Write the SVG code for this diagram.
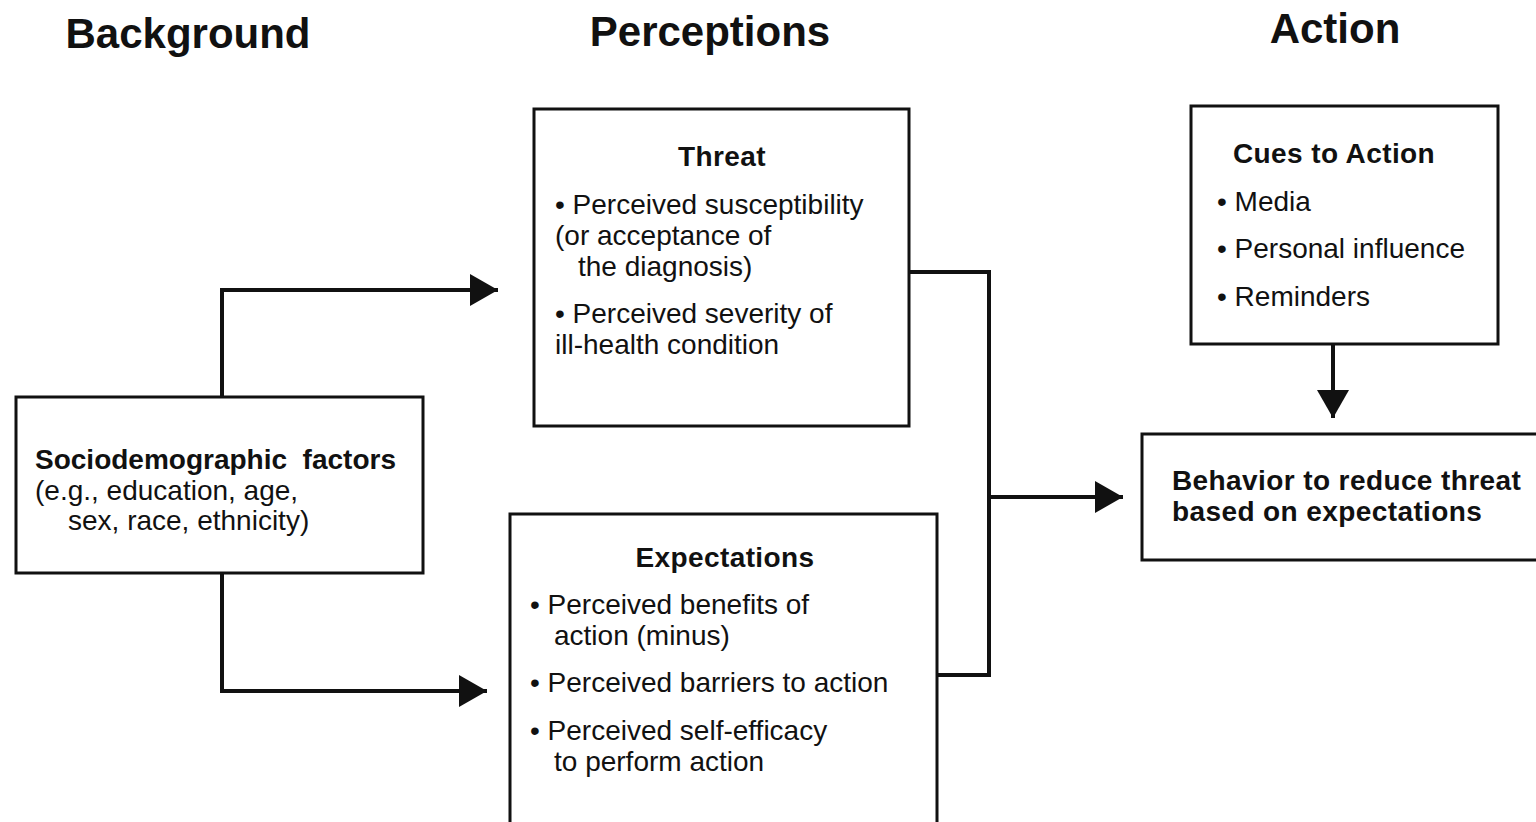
<svg xmlns="http://www.w3.org/2000/svg" width="1536" height="822" viewBox="0 0 1536 822">
<style>
.box{fill:#fff;stroke:#111;stroke-width:3}
.ln{fill:none;stroke:#111;stroke-width:4}
.t{font-family:"Liberation Sans",Arial,sans-serif;font-size:28px;fill:#111}
.b{font-weight:bold;letter-spacing:0.4px}
.h{font-family:"Liberation Sans",Arial,sans-serif;font-size:42px;font-weight:bold;fill:#111}
</style>
<defs>
<marker id="ah" markerWidth="8" markerHeight="8" refX="7" refY="4" orient="auto" markerUnits="strokeWidth">
<path d="M0,0 L7,4 L0,8 Z" fill="#111"/>
</marker>
</defs>
<rect width="1536" height="822" fill="#fff"/>
<g id="titles">
<text class="h" x="188" y="48" text-anchor="middle">Background</text>
<text class="h" x="710" y="46" text-anchor="middle">Perceptions</text>
<text class="h" x="1335" y="43" text-anchor="middle">Action</text>
</g>
<g id="connectors">
<path class="ln" d="M222,397 V290 H498" marker-end="url(#ah)"/>
<path class="ln" d="M222,573 V691 H487" marker-end="url(#ah)"/>
<path class="ln" d="M909,272 H989 V675 H937"/>
<path class="ln" d="M989,497 H1123" marker-end="url(#ah)"/>
<path class="ln" d="M1333,344 V418" marker-end="url(#ah)"/>
</g>
<g id="socio">
<rect class="box" x="16" y="397" width="407" height="176"/>
<text class="t b" x="35" y="469" xml:space="preserve" style="letter-spacing:0">Sociodemographic  factors</text>
<text class="t" x="35" y="500">(e.g., education, age,</text>
<text class="t" x="68" y="530">sex, race, ethnicity)</text>
</g>
<g id="threat">
<rect class="box" x="534" y="109" width="375" height="317"/>
<text class="t b" x="722" y="166" text-anchor="middle">Threat</text>
<text class="t" x="555" y="214">• Perceived susceptibility</text>
<text class="t" x="555" y="245">(or acceptance of</text>
<text class="t" x="578" y="276">the diagnosis)</text>
<text class="t" x="555" y="323">• Perceived severity of</text>
<text class="t" x="555" y="354">ill-health condition</text>
</g>
<g id="expectations">
<rect class="box" x="510" y="514" width="427" height="320"/>
<text class="t b" x="725" y="567" text-anchor="middle">Expectations</text>
<text class="t" x="530" y="614">• Perceived benefits of</text>
<text class="t" x="554" y="645">action (minus)</text>
<text class="t" x="530" y="692">• Perceived barriers to action</text>
<text class="t" x="530" y="740">• Perceived self-efficacy</text>
<text class="t" x="554" y="771">to perform action</text>
</g>
<g id="cues">
<rect class="box" x="1191" y="106" width="307" height="238"/>
<text class="t b" x="1233" y="163">Cues to Action</text>
<text class="t" x="1217" y="211">• Media</text>
<text class="t" x="1217" y="258">• Personal influence</text>
<text class="t" x="1217" y="306">• Reminders</text>
</g>
<g id="behavior">
<rect class="box" x="1142" y="434" width="410" height="126"/>
<text class="t b" x="1172" y="490">Behavior to reduce threat</text>
<text class="t b" x="1172" y="521">based on expectations</text>
</g>
</svg>
